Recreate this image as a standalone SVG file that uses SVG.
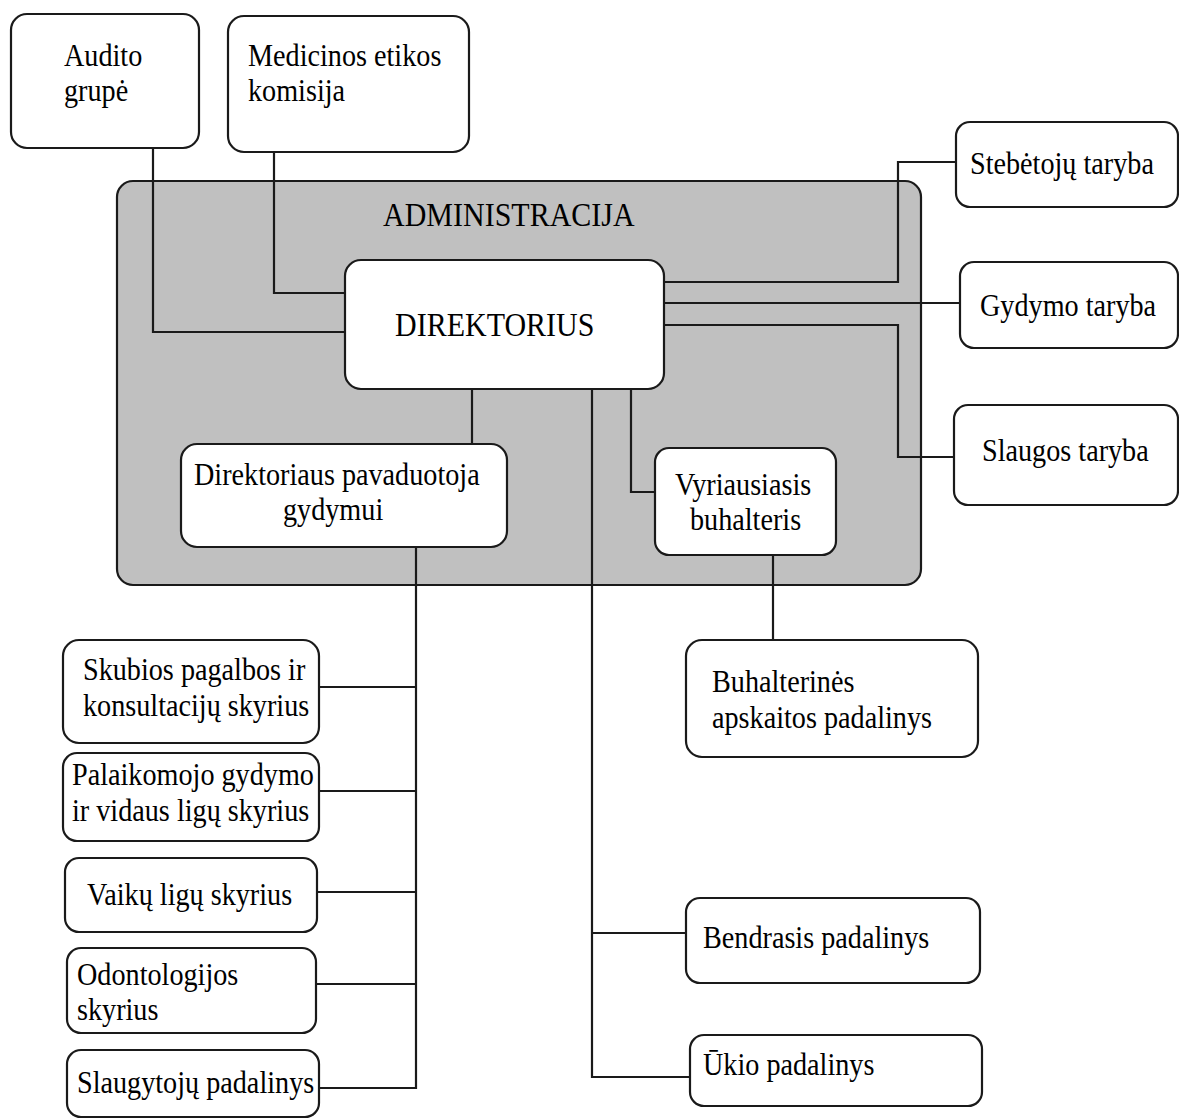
<svg xmlns="http://www.w3.org/2000/svg" width="1179" height="1120" viewBox="0 0 1179 1120">
<style>
.bx{fill:#fff;stroke:#1a1a1a;stroke-width:2.2}
.adm{fill:#c0c0c0;stroke:#1a1a1a;stroke-width:2.2}
.t{font-family:"Liberation Serif","Times New Roman",serif;font-size:28.2px;fill:#000}
.c{font-size:30px}
.ln{fill:none;stroke:#1a1a1a;stroke-width:2.2}
</style>
<rect width="1179" height="1120" fill="#fff"/>
<g id="administracija">
<rect class="adm" x="117" y="181" width="804" height="404" rx="16"/>
<text class="t c" transform="translate(383,226) scale(1,1.12)">ADMINISTRACIJA</text>
</g>
<g id="connectors">
<path class="ln" d="M153,148 V332 H345"/>
<path class="ln" d="M274,152 V293 H345"/>
<path class="ln" d="M664,282 H898 V162 H956"/>
<path class="ln" d="M664,303 H960"/>
<path class="ln" d="M664,325 H898 V457 H954"/>
<path class="ln" d="M472,389 V444"/>
<path class="ln" d="M631,389 V492 H655"/>
<path class="ln" d="M773,555 V640"/>
<path class="ln" d="M592,389 V1077 H690"/>
<path class="ln" d="M592,933 H686"/>
<path class="ln" d="M416,547 V1088 H319"/>
<path class="ln" d="M319,687 H416"/>
<path class="ln" d="M319,791 H416"/>
<path class="ln" d="M317,892 H416"/>
<path class="ln" d="M316,984 H416"/>
</g>
<g id="audito">
<rect class="bx" x="11" y="14" width="188" height="134" rx="16"/>
<text class="t" transform="translate(64,66) scale(1,1.12)">Audito</text>
<text class="t" transform="translate(64,101) scale(1,1.12)">grupė</text>
</g>
<g id="etikos">
<rect class="bx" x="228" y="16" width="241" height="136" rx="16"/>
<text class="t" transform="translate(248,66) scale(1,1.12)">Medicinos etikos</text>
<text class="t" transform="translate(248,101) scale(1,1.12)">komisija</text>
</g>
<g id="stebetoju">
<rect class="bx" x="956" y="122" width="222" height="85" rx="14"/>
<text class="t" transform="translate(970,174) scale(1,1.12)">Stebėtojų taryba</text>
</g>
<g id="gydymo">
<rect class="bx" x="960" y="262" width="218" height="86" rx="14"/>
<text class="t" transform="translate(980,316) scale(1,1.12)">Gydymo taryba</text>
</g>
<g id="slaugos">
<rect class="bx" x="954" y="405" width="224" height="100" rx="14"/>
<text class="t" transform="translate(982,461) scale(1,1.12)">Slaugos taryba</text>
</g>
<g id="direktorius">
<rect class="bx" x="345" y="260" width="319" height="129" rx="16"/>
<text class="t c" transform="translate(395,336) scale(1,1.12)">DIREKTORIUS</text>
</g>
<g id="pavaduotoja">
<rect class="bx" x="181" y="444" width="326" height="103" rx="16"/>
<text class="t" transform="translate(194,485) scale(1,1.12)">Direktoriaus pavaduotoja</text>
<text class="t" transform="translate(283,520) scale(1,1.12)">gydymui</text>
</g>
<g id="vyriausiasis">
<rect class="bx" x="655" y="448" width="181" height="107" rx="14"/>
<text class="t" transform="translate(675,495) scale(1,1.12)">Vyriausiasis</text>
<text class="t" transform="translate(690,530) scale(1,1.12)">buhalteris</text>
</g>
<g id="buhalterines">
<rect class="bx" x="686" y="640" width="292" height="117" rx="16"/>
<text class="t" transform="translate(712,692) scale(1,1.12)">Buhalterinės</text>
<text class="t" transform="translate(712,728) scale(1,1.12)">apskaitos padalinys</text>
</g>
<g id="bendrasis">
<rect class="bx" x="686" y="898" width="294" height="85" rx="14"/>
<text class="t" transform="translate(703,948) scale(1,1.12)">Bendrasis padalinys</text>
</g>
<g id="ukio">
<rect class="bx" x="690" y="1035" width="292" height="71" rx="14"/>
<text class="t" transform="translate(703,1075) scale(1,1.12)">Ūkio padalinys</text>
</g>
<g id="skubios">
<rect class="bx" x="63" y="640" width="256" height="103" rx="16"/>
<text class="t" transform="translate(83,680) scale(1,1.12)">Skubios pagalbos ir</text>
<text class="t" transform="translate(83,716) scale(1,1.12)">konsultacijų skyrius</text>
</g>
<g id="palaikomojo">
<rect class="bx" x="63" y="753" width="256" height="88" rx="14"/>
<text class="t" transform="translate(72,785) scale(1,1.12)">Palaikomojo gydymo</text>
<text class="t" transform="translate(72,821) scale(1,1.12)">ir vidaus ligų skyrius</text>
</g>
<g id="vaiku">
<rect class="bx" x="65" y="858" width="252" height="74" rx="14"/>
<text class="t" transform="translate(87,905) scale(1,1.12)">Vaikų ligų skyrius</text>
</g>
<g id="odontologijos">
<rect class="bx" x="67" y="948" width="249" height="85" rx="14"/>
<text class="t" transform="translate(77,985) scale(1,1.12)">Odontologijos</text>
<text class="t" transform="translate(77,1020) scale(1,1.12)">skyrius</text>
</g>
<g id="slaugytoju">
<rect class="bx" x="67" y="1050" width="252" height="67" rx="14"/>
<text class="t" transform="translate(77,1093) scale(1,1.12)">Slaugytojų padalinys</text>
</g>
</svg>
